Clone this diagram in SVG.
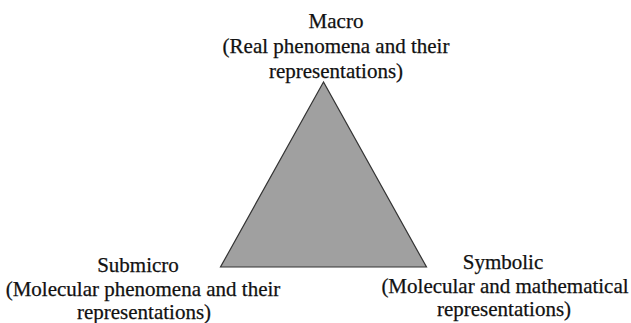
<svg xmlns="http://www.w3.org/2000/svg" width="631" height="323" viewBox="0 0 631 323">
<style>
text{font-family:"Liberation Serif","Times New Roman",serif;font-size:21px;fill:#111;stroke:#111;stroke-width:0.25;text-anchor:middle}
.tri{fill:#a0a0a0;stroke:#333;stroke-width:1.2}
</style>
<rect width="631" height="323" fill="#fff"/>
<g id="triangle"><polygon class="tri" points="323.5,82 220.5,267 426.5,267"/></g>
<g id="connectors"></g>
<g id="macro"><text x="336" y="28">Macro</text><text x="336" y="53">(Real phenomena and their</text><text x="336" y="78">representations)</text></g>
<g id="submicro"><text x="138" y="272">Submicro</text><text x="143" y="296">(Molecular phenomena and their</text><text x="144" y="319">representations)</text></g>
<g id="symbolic"><text x="503" y="269">Symbolic</text><text x="505" y="293">(Molecular and mathematical</text><text x="504" y="316">representations)</text></g>
</svg>
